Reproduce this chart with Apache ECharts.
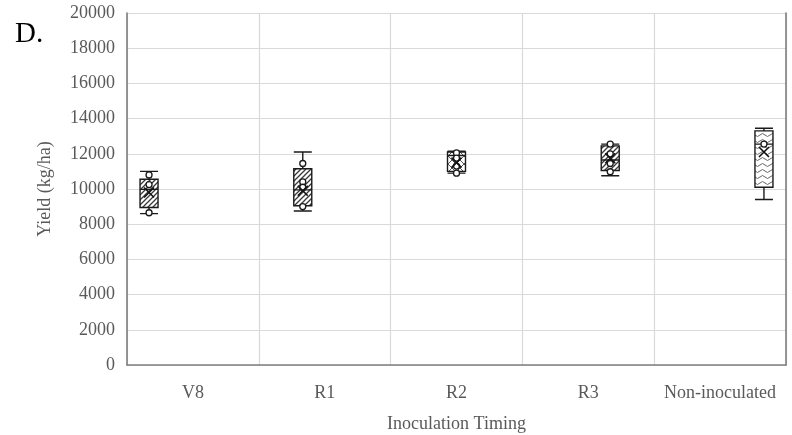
<!DOCTYPE html>
<html>
<head>
<meta charset="utf-8">
<script src="https://cdn.jsdelivr.net/npm/echarts@6/dist/echarts.min.js"></script>
<style>
  html, body { margin: 0; background: #fff; }
  #chart { width: 792px; height: 435px; }
</style>
</head>
<body>
<div id="chart"></div>
<script>
// categories and values
const categories = ["V8", "R1", "R2", "R3", "Non-inoculated"];
// [min, Q1, median, Q3, max]
const boxV8 = [8600, 8950, 9980, 10550, 11000];
const boxR1 = [8750, 9050, 9950, 11150, 12100];
const boxR2 = [10900, 11000, 11900, 12100, 12150];
const boxR3 = [10750, 11050, 11650, 12450, 12550];
const boxNon = [9400, 10100, 12550, 13300, 13450];
const means = [9800, 9900, 11500, 11750, 12100];
// inner points
const pointsV8 = [10800, 10250, 8650];
const pointsR1 = [11450, 10400, 10100, 9000];
const pointsR2 = [12050, 11750, 11300, 10900];
const pointsR3 = [12550, 12000, 11450, 10980];
const pointsNon = [12550];
const yMin = 0, yMax = 20000, yStep = 2000;

const boxes = [boxV8, boxR1, boxR2, boxR3, boxNon];
const points = [pointsV8, pointsR1, pointsR2, pointsR3, pointsNon];

// fill patterns
function makePattern(kind) {
  const c = document.createElement("canvas");
  const ctx = c.getContext("2d");
  if (kind === "hatch") {
    c.width = 5; c.height = 5;
    ctx.fillStyle = "#fff"; ctx.fillRect(0, 0, 5, 5);
    ctx.strokeStyle = "#3a3a3a"; ctx.lineWidth = 1.3;
    ctx.beginPath();
    ctx.moveTo(-1, 6); ctx.lineTo(6, -1);
    ctx.moveTo(-1, 1); ctx.lineTo(1, -1);
    ctx.moveTo(4, 6); ctx.lineTo(6, 4);
    ctx.stroke();
  } else if (kind === "diamond") {
    c.width = 8; c.height = 8;
    ctx.fillStyle = "#fff"; ctx.fillRect(0, 0, 8, 8);
    ctx.strokeStyle = "#555"; ctx.lineWidth = 1;
    ctx.beginPath();
    ctx.moveTo(0, 4); ctx.lineTo(4, 0); ctx.lineTo(8, 4); ctx.lineTo(4, 8); ctx.closePath();
    ctx.stroke();
  } else {
    c.width = 10; c.height = 6;
    ctx.fillStyle = "#fff"; ctx.fillRect(0, 0, 10, 6);
    ctx.strokeStyle = "#666"; ctx.lineWidth = 1;
    ctx.beginPath();
    ctx.moveTo(0, 3);
    ctx.quadraticCurveTo(2.5, 0, 5, 3);
    ctx.quadraticCurveTo(7.5, 6, 10, 3);
    ctx.stroke();
  }
  return { image: c, repeat: "repeat" };
}
const fills = [makePattern("hatch"), makePattern("hatch"), makePattern("diamond"), makePattern("hatch"), makePattern("wave")];

// grid geometry, and the offsets echarts' boxplot layout gives 5 series
const gridLeft = 127, gridRight = 6, gridTop = 13, gridBottom = 70;
const bandWidth = (792 - gridLeft - gridRight) / categories.length;
const avail = bandWidth * 0.8 - 2;
const gap = avail / categories.length * 0.3;
const bw = (avail - gap * (categories.length - 1)) / categories.length;
const offsets = categories.map((_, i) => bw / 2 - avail / 2 + i * (gap + bw));

const serif = "Liberation Serif";
const series = [];

categories.forEach((name, i) => {
  series.push({
    type: "boxplot",
    name: name,
    data: [[i].concat(boxes[i])],
    encode: { x: 0, y: [1, 2, 3, 4, 5] },
    boxWidth: [18, 18],
    itemStyle: { color: fills[i], borderColor: "#1a1a1a", borderWidth: 1.4 },
    emphasis: { disabled: true },
    z: 2,
  });
});

series.push({
  type: "scatter",
  symbol: "circle",
  symbolSize: 6,
  data: points.flatMap((arr, i) =>
    arr.map((v) => ({ value: [i, v], symbolOffset: [offsets[i], 0] }))
  ),
  itemStyle: { color: "#fff", borderColor: "#1a1a1a", borderWidth: 1.3, opacity: 1 },
  z: 4,
});

series.push({
  type: "scatter",
  symbol: "path://M0,0L10,10M10,0L0,10",
  symbolSize: 10,
  data: means.map((v, i) => ({ value: [i, v], symbolOffset: [offsets[i], 0] })),
  itemStyle: { color: "none", borderColor: "#111", borderWidth: 1.6, opacity: 1 },
  z: 5,
});

const chart = echarts.init(document.getElementById("chart"));
chart.setOption({
  animation: false,
  backgroundColor: "#fff",
  textStyle: { fontFamily: serif },
  graphic: [
    {
      type: "text",
      left: 15,
      top: 20,
      style: { text: "D.", font: "29px 'Liberation Serif'", fill: "#000" },
    },
  ],
  grid: {
    left: gridLeft, right: gridRight, top: gridTop, bottom: gridBottom,
    containLabel: false, outerBoundsMode: "none",
  },
  xAxis: {
    type: "category",
    data: categories,
    boundaryGap: true,
    name: "Inoculation Timing",
    nameLocation: "middle",
    nameGap: 50,
    nameTextStyle: { fontFamily: serif, fontSize: 18, color: "#595959" },
    axisLine: { lineStyle: { color: "#7f7f7f", width: 1.6 } },
    axisTick: { show: false },
    axisLabel: { fontFamily: serif, fontSize: 18, color: "#595959", margin: 19, interval: 0 },
    splitLine: { show: true, interval: 0, lineStyle: { color: "#d9d9d9", width: 1.2 } },
  },
  yAxis: [
    {
      type: "value",
      min: yMin,
      max: yMax,
      interval: yStep,
      name: "Yield (kg/ha)",
      nameLocation: "middle",
      nameGap: 73,
      nameTextStyle: { fontFamily: serif, fontSize: 18, color: "#595959" },
      axisLine: { show: true, lineStyle: { color: "#7f7f7f", width: 1.6 } },
      axisTick: { show: false },
      axisLabel: {
        fontFamily: serif, fontSize: 18, color: "#595959", margin: 12,
        formatter: (v) => String(v),
      },
      splitLine: { lineStyle: { color: "#d9d9d9", width: 1.2 } },
    },
    {
      type: "value",
      min: yMin,
      max: yMax,
      interval: yStep,
      position: "right",
      axisLine: { show: true, lineStyle: { color: "#7f7f7f", width: 1.6 } },
      axisTick: { show: false },
      axisLabel: { show: false },
      splitLine: { show: false },
    },
  ],
  series: series,
});
</script>
</body>
</html>
